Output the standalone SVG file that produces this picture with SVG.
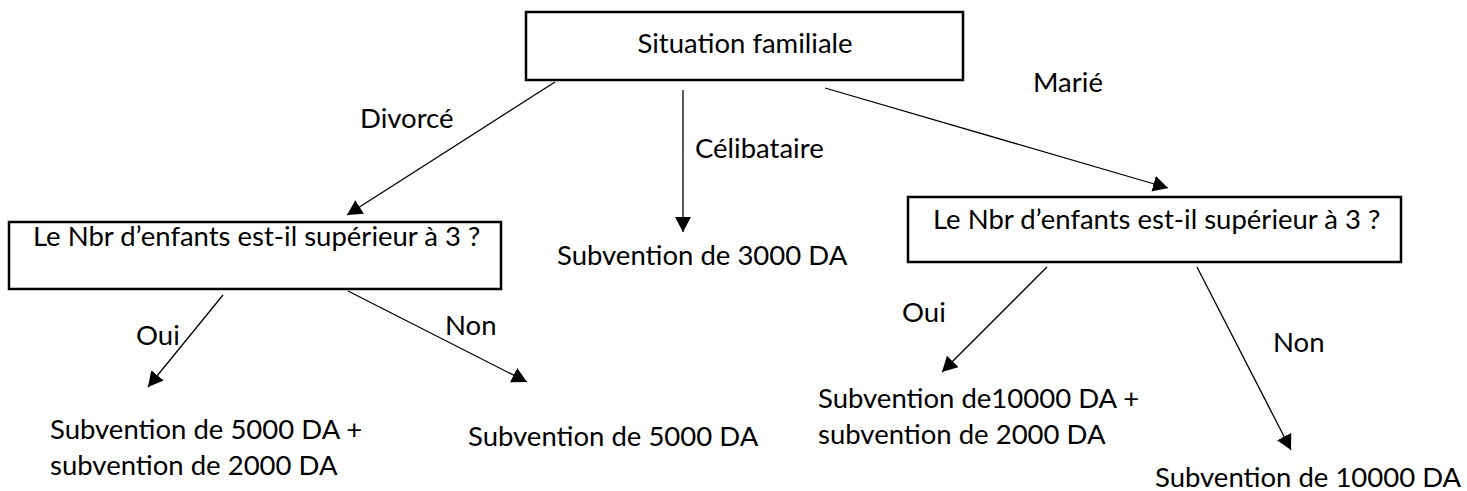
<svg xmlns="http://www.w3.org/2000/svg" width="1467" height="491" viewBox="0 0 1467 491">
  <style>
    .box { fill: #fff; stroke: #000; stroke-width: 2.5; }
    .lbl { font-family: Lato, "Open Sans", "Liberation Sans", sans-serif; font-size: 27.5px; fill: #000; }
    .edge { stroke: #000; stroke-width: 1.3; fill: none; marker-end: url(#arrow); }
  </style>
  <defs>
    <marker id="arrow" markerUnits="userSpaceOnUse" markerWidth="18" markerHeight="18" refX="15" refY="8" orient="auto">
      <path d="M0,0 L15,8 L0,16 Z" fill="#000"/>
    </marker>
  </defs>
  <rect width="1467" height="491" fill="#fff"/>

  <!-- connectors and their labels -->
  <g id="connectors">
    <line class="edge" x1="555" y1="82" x2="347" y2="215"/>
    <line class="edge" x1="683" y1="90" x2="683" y2="232"/>
    <line class="edge" x1="825" y1="88" x2="1168" y2="188"/>
    <line class="edge" x1="223" y1="295" x2="148" y2="387"/>
    <line class="edge" x1="348" y1="291" x2="527" y2="382"/>
    <line class="edge" x1="1047" y1="267" x2="942" y2="372"/>
    <line class="edge" x1="1197" y1="267" x2="1291" y2="450"/>
    <text class="lbl" x="360" y="128">Divorcé</text>
    <text class="lbl" x="695" y="158">Célibataire</text>
    <text class="lbl" x="1033" y="92">Marié</text>
    <text class="lbl" x="136" y="345">Oui</text>
    <text class="lbl" x="445" y="335">Non</text>
    <text class="lbl" x="902" y="322">Oui</text>
    <text class="lbl" x="1273" y="352">Non</text>
  </g>

  <!-- root question -->
  <g id="situation">
    <rect class="box" x="526" y="12" width="437" height="68"/>
    <text class="lbl" x="745" y="53" text-anchor="middle">Situation familiale</text>
  </g>

  <!-- divorced branch -->
  <g id="enfants-divorce">
    <rect class="box" x="9" y="222" width="492" height="67"/>
    <text class="lbl" x="33" y="246">Le Nbr d’enfants est-il supérieur à 3 ?</text>
  </g>
  <g id="divorce-oui">
    <text class="lbl" x="50" y="439">Subvention de 5000 DA +</text>
    <text class="lbl" x="50" y="475">subvention de 2000 DA</text>
  </g>
  <g id="divorce-non">
    <text class="lbl" x="468" y="446">Subvention de 5000 DA</text>
  </g>

  <!-- single branch -->
  <g id="celibataire">
    <text class="lbl" x="557" y="265">Subvention de 3000 DA</text>
  </g>

  <!-- married branch -->
  <g id="enfants-marie">
    <rect class="box" x="908" y="197" width="493" height="65"/>
    <text class="lbl" x="933" y="229">Le Nbr d’enfants est-il supérieur à 3 ?</text>
  </g>
  <g id="marie-oui">
    <text class="lbl" x="818" y="408">Subvention de10000 DA +</text>
    <text class="lbl" x="818" y="444">subvention de 2000 DA</text>
  </g>
  <g id="marie-non">
    <text class="lbl" x="1155" y="487">Subvention de 10000 DA</text>
  </g>
</svg>
